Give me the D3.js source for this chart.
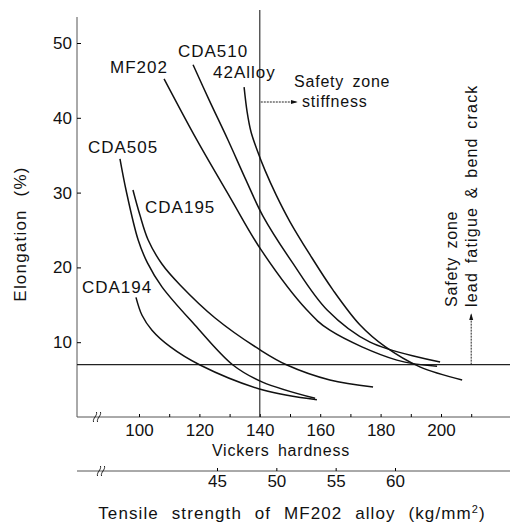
<!DOCTYPE html>
<html>
<head>
<meta charset="utf-8">
<script src="https://cdn.jsdelivr.net/npm/d3@7"></script>
<style>
  body { margin: 0; background: #fff; }
  svg { display: block; }
  text { font-family: "Liberation Sans", Arial, sans-serif; fill: #111; }
</style>
</head>
<body>
<svg width="510" height="525"></svg>
<script>
// curves: Vickers hardness vs elongation (%)
var seriesNames = ["CDA194", "CDA505", "CDA195", "MF202", "CDA510", "42Alloy"];

var hvCDA194 = [99.0, 101.0, 104.3, 110.3, 120.2, 141.1, 158.9];
var elCDA194 = [16.0, 13.6, 11.6, 9.4, 6.95, 3.6, 2.3];

var hvCDA505 = [93.7, 95.7, 99.7, 102.8, 107.6, 118.5, 131.1, 140.7, 158.3];
var elCDA505 = [34.5, 30.35, 23.7, 20.6, 17.4, 12.3, 6.95, 4.7, 2.5];

var hvCDA195 = [98.0, 100.3, 103.0, 107.6, 113.6, 125.2, 140.7, 149.0, 163.2, 177.5];
var elCDA195 = [30.35, 27.0, 23.7, 20.45, 17.65, 13.24, 8.82, 6.95, 4.95, 4.0];

var hvMF202 = [108.3, 119.2, 130.1, 140.5, 155.6, 163.2, 185.4, 198.7];
var elMF202 = [45.2, 37.0, 29.4, 22.3, 14.3, 11.6, 7.6, 6.8];

var hvCDA510 = [117.9, 123.2, 129.5, 135.4, 141.0, 150.7, 162.3, 176.5, 199.7];
var elCDA510 = [47.1, 42.4, 37.0, 31.7, 26.9, 20.7, 14.3, 10.0, 7.35];

var hv42Alloy = [134.8, 135.8, 137.1, 139.1, 141.7, 145.4, 150.0, 156.6, 164.2, 173.2, 181.5, 193.0, 207.0];
var el42Alloy = [44.1, 40.8, 38.1, 35.7, 33.0, 29.7, 26.1, 21.7, 17.0, 12.3, 9.4, 6.7, 4.95];

// label anchors in data units (hardness, elongation)
var labelHV = [81.1, 83.1, 102.0, 90.4, 112.9, 124.5];
var labelEl = [16.6, 35.3, 27.3, 46.0, 48.1, 45.3];

var yTicks = [10, 20, 30, 40, 50];
var hvTicks = [100, 110, 120, 130, 140, 150, 160, 170, 180, 190, 200, 210];
var hvLabels = [100, 120, 140, 160, 180, 200];
var tsTicks = [45, 50, 55, 60];

var stiffLimit = 140;   // vertical safety line (HV)
var fatigueLimit = 7;   // horizontal safety line (%)
var fatigueArrowHV = 210;

var hvCols = [hvCDA194, hvCDA505, hvCDA195, hvMF202, hvCDA510, hv42Alloy];
var elCols = [elCDA194, elCDA505, elCDA195, elMF202, elCDA510, el42Alloy];
var table = seriesNames.map(function(n, i) {
  return {name: n, pts: hvCols[i].map(function(h, j) { return {hv: h, el: elCols[i][j]}; }),
          lhv: labelHV[i], lel: labelEl[i]};
});

var svg = d3.select("svg");
var x = d3.scaleLinear().domain([100, 200]).range([139, 441]);
var y = d3.scaleLinear().domain([0, 50]).range([417, 43]);
var xt = d3.scaleLinear().domain([45, 60]).range([217, 395]);
var x0 = 77, xEnd = 510;
var fnt = "Liberation Sans, Arial, sans-serif";

svg.append("defs").append("marker")
  .attr("id", "arr").attr("viewBox", "0 0 10 10").attr("refX", 9).attr("refY", 5)
  .attr("markerWidth", 7).attr("markerHeight", 7).attr("orient", "auto-start-reverse")
  .append("path").attr("d", "M0,2L10,5L0,8Z").attr("fill", "#111");

// y axis
svg.append("line").attr("x1", x0).attr("x2", x0).attr("y1", 17).attr("y2", y(0))
  .attr("stroke", "#555").attr("stroke-width", 1);
var ya = svg.append("g").attr("transform", "translate(" + x0 + ",0)")
  .call(d3.axisLeft(y).tickValues(yTicks).tickSize(-4).tickPadding(5));
ya.select(".domain").remove();
ya.selectAll("text").style("font-size", "17px").style("font-family", fnt);

// hardness axis
svg.append("line").attr("x1", x0).attr("x2", xEnd).attr("y1", y(0)).attr("y2", y(0))
  .attr("stroke", "#555").attr("stroke-width", 1);
var xa = svg.append("g").attr("transform", "translate(0," + y(0) + ")")
  .call(d3.axisBottom(x).tickValues(hvTicks).tickSize(-3).tickPadding(7)
    .tickFormat(function(d) { return hvLabels.indexOf(d) >= 0 ? d : ""; }));
xa.select(".domain").remove();
xa.selectAll("text").style("font-size", "17px").style("font-family", fnt);

// tensile strength axis
var yT = 471;
svg.append("line").attr("x1", x0).attr("x2", xEnd).attr("y1", yT).attr("y2", yT)
  .attr("stroke", "#555").attr("stroke-width", 1);
var ta = svg.append("g").attr("transform", "translate(0," + yT + ")")
  .call(d3.axisBottom(xt).tickValues(tsTicks).tickSize(-3).tickPadding(4));
ta.select(".domain").remove();
ta.selectAll("text").style("font-size", "17px").style("font-family", fnt);

// break marks
function brk(cx, cy) {
  [-2, 2].forEach(function(o) {
    svg.append("path")
      .attr("d", "M" + (cx + o - 1.5) + "," + (cy + 5) + " C" + (cx + o - 2.5) + "," + (cy + 1) + " " + (cx + o + 2.5) + "," + (cy - 1) + " " + (cx + o + 1.5) + "," + (cy - 5))
      .attr("fill", "none").attr("stroke", "#222").attr("stroke-width", 1);
  });
}
brk(97, y(0));
brk(101, yT);

// safety lines
svg.append("line").attr("x1", x(stiffLimit)).attr("x2", x(stiffLimit)).attr("y1", 10).attr("y2", y(0))
  .attr("stroke", "#222").attr("stroke-width", 1.1);
svg.append("line").attr("x1", x0).attr("x2", xEnd).attr("y1", y(fatigueLimit)).attr("y2", y(fatigueLimit))
  .attr("stroke", "#222").attr("stroke-width", 1.3);

// curves
var line = d3.line().x(function(d) { return x(d.hv); }).y(function(d) { return y(d.el); })
  .curve(d3.curveCatmullRom.alpha(0.5));
svg.append("g").selectAll("path").data(table).join("path")
  .attr("d", function(d) { return line(d.pts); })
  .attr("fill", "none").attr("stroke", "#111").attr("stroke-width", 1.5);

svg.append("g").selectAll("text").data(table).join("text")
  .attr("x", function(d) { return x(d.lhv); }).attr("y", function(d) { return y(d.lel); })
  .style("font-size", "17px").style("letter-spacing", "1px")
  .text(function(d) { return d.name; });

// stiffness annotation
svg.append("text").attr("x", 294).attr("y", 87).style("font-size", "16px").style("letter-spacing", "0.8px")
  .style("word-spacing", "3px").text("Safety zone");
svg.append("text").attr("x", 302).attr("y", 107).style("font-size", "16px").style("letter-spacing", "0.8px")
  .text("stiffness");
svg.append("line").attr("x1", x(stiffLimit) + 1).attr("x2", 297).attr("y1", 102).attr("y2", 102)
  .attr("stroke", "#222").attr("stroke-width", 1).attr("stroke-dasharray", "2,1")
  .attr("marker-end", "url(#arr)");

// fatigue annotation (rotated)
svg.append("text").attr("transform", "translate(457,307) rotate(-90)")
  .style("font-size", "16px").style("letter-spacing", "0.8px").style("word-spacing", "3px")
  .text("Safety zone");
svg.append("text").attr("transform", "translate(477,307) rotate(-90)")
  .style("font-size", "16px").style("letter-spacing", "1.2px").style("word-spacing", "3px")
  .text("lead fatigue & bend crack");
svg.append("line").attr("x1", x(fatigueArrowHV)).attr("x2", x(fatigueArrowHV))
  .attr("y1", y(fatigueLimit)).attr("y2", 314)
  .attr("stroke", "#222").attr("stroke-width", 1).attr("stroke-dasharray", "2,1")
  .attr("marker-end", "url(#arr)");

// axis titles
svg.append("text").attr("x", 281).attr("y", 456).attr("text-anchor", "middle")
  .style("font-size", "16px").style("letter-spacing", "0.8px").style("word-spacing", "3px")
  .text("Vickers hardness");
var tt = svg.append("text").attr("x", 292).attr("y", 519).attr("text-anchor", "middle")
  .style("font-size", "17px").style("letter-spacing", "1.1px").style("word-spacing", "7px");
tt.append("tspan").text("Tensile strength of MF202 alloy (kg/mm");
tt.append("tspan").attr("dy", -6).style("font-size", "11px").text("2");
tt.append("tspan").attr("dy", 6).text(")");
svg.append("text").attr("transform", "translate(26,234) rotate(-90)").attr("text-anchor", "middle")
  .style("font-size", "17px").style("letter-spacing", "1.2px").style("word-spacing", "7px")
  .text("Elongation (%)");
</script>
</body>
</html>
